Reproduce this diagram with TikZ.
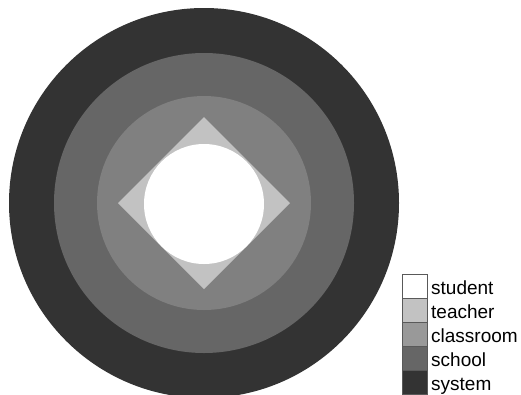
\documentclass[tikz,border=0pt]{standalone}
\usepackage{fontspec}
\setmainfont{Liberation Sans}
\usetikzlibrary{positioning}

\definecolor{cstudent}{HTML}{FFFFFF}
\definecolor{cteacher}{HTML}{C2C2C2}
\definecolor{cclassroom}{HTML}{808080}
\definecolor{cschool}{HTML}{666666}
\definecolor{csystem}{HTML}{333333}

\begin{document}
\begin{tikzpicture}[
  x=1pt, y=-1pt,
  swatch/.style={draw=black!65, line width=0.9pt, minimum width=25pt, minimum height=24pt, inner sep=0pt, outer sep=0pt},
  lbl/.style={font=\fontsize{19}{19}\selectfont, anchor=west, inner sep=0pt, text height=17pt, text depth=0pt}
]
\useasboundingbox[fill=white] (0,0) rectangle (521,394);

% ---- Rings (system / school / classroom) ----
\fill[csystem] (204,203) circle[radius=195pt];
\fill[cschool] (204,203) circle[radius=150pt];
\fill[cclassroom] (204,203) circle[radius=107pt];

% ---- Teacher diamond and student core ----
\fill[cteacher] (204,117) -- (290,203) -- (204,289) -- (118,203) -- cycle;
\fill[cstudent] (204,204) circle[radius=60pt];

% ---- Legend ----
\node[swatch, fill=cstudent] (sstudent) at (414.5,286) {};
\node[swatch, fill=cteacher, below=0pt of sstudent] (steacher) {};
\node[swatch, fill=cclassroom!80!white, below=0pt of steacher] (sclassroom) {};
\node[swatch, fill=cschool, below=0pt of sclassroom] (sschool) {};
\node[swatch, fill=csystem, below=0pt of sschool] (ssystem) {};

\node[lbl, right=4pt of sstudent] (lstudent) {student};
\node[lbl, right=4pt of steacher] (lteacher) {teacher};
\node[lbl, right=4pt of sclassroom] (lclassroom) {classroom};
\node[lbl, right=4pt of sschool] (lschool) {school};
\node[lbl, right=4pt of ssystem] (lsystem) {system};

\end{tikzpicture}
\end{document}
